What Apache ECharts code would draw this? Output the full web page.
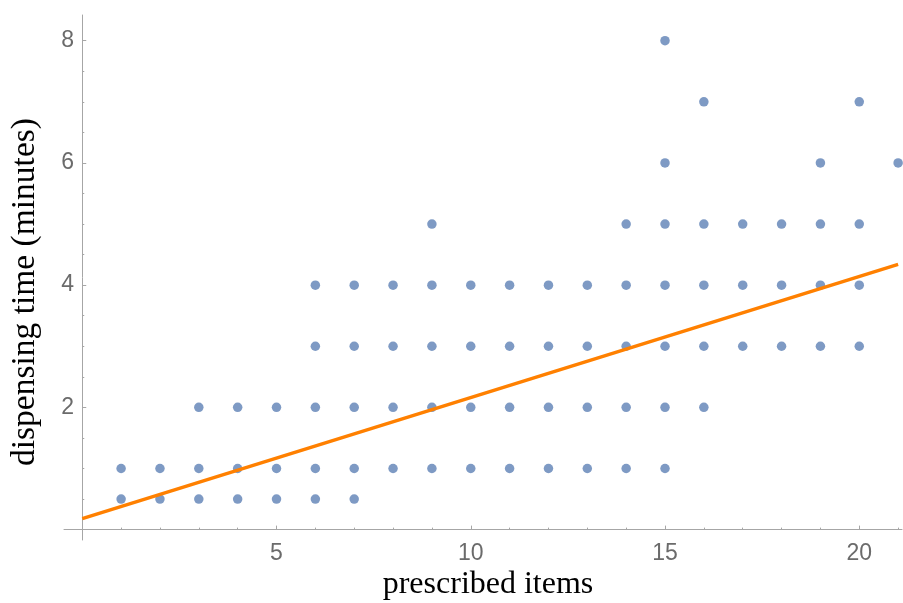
<!DOCTYPE html>
<html>
<head>
<meta charset="utf-8">
<script src="https://cdn.jsdelivr.net/npm/echarts@6/dist/echarts.min.js"></script>
<style>
  html, body { margin: 0; padding: 0; background: #fff; }
  #main { width: 903px; height: 603px; }
</style>
</head>
<body>
<div id="main"></div>
<script>
// prescribed items (x) and dispensing time in minutes (y), one entry per dot
var itemsX = [
  1, 1,
  2, 2,
  3, 3, 3,
  4, 4, 4,
  5, 5, 5,
  6, 6, 6, 6, 6,
  7, 7, 7, 7, 7,
  8, 8, 8, 8,
  9, 9, 9, 9, 9,
  10, 10, 10, 10,
  11, 11, 11, 11,
  12, 12, 12, 12,
  13, 13, 13, 13,
  14, 14, 14, 14, 14,
  15, 15, 15, 15, 15, 15, 15,
  16, 16, 16, 16, 16,
  17, 17, 17,
  18, 18, 18,
  19, 19, 19, 19,
  20, 20, 20, 20,
  21
];
var timeY = [
  0.5, 1,
  0.5, 1,
  0.5, 1, 2,
  0.5, 1, 2,
  0.5, 1, 2,
  0.5, 1, 2, 3, 4,
  0.5, 1, 2, 3, 4,
  1, 2, 3, 4,
  1, 2, 3, 4, 5,
  1, 2, 3, 4,
  1, 2, 3, 4,
  1, 2, 3, 4,
  1, 2, 3, 4,
  1, 2, 3, 4, 5,
  1, 2, 3, 4, 5, 6, 8,
  2, 3, 4, 5, 7,
  3, 4, 5,
  3, 4, 5,
  3, 4, 5, 6,
  3, 4, 5, 7,
  6
];
// fitted line, read at its two ends
var fitX = [0, 21];
var fitY = [0.18, 4.34];

var xMajor = [5, 10, 15, 20];
var xMinor = [1, 2, 3, 4, 6, 7, 8, 9, 11, 12, 13, 14, 16, 17, 18, 19, 21];
var yMajor = [2, 4, 6, 8];
var yMinor = [0.5, 1, 1.5, 2.5, 3, 3.5, 4.5, 5, 5.5, 6.5, 7, 7.5];

var dots = itemsX.map(function (x, i) { return [x, timeY[i]]; });
var fit = fitX.map(function (x, i) { return [x, fitY[i]]; });

var axisGray = '#a6a6a6';
var labelGray = '#6b6b6b';

var chart = echarts.init(document.getElementById('main'));
chart.setOption({
  animation: false,
  backgroundColor: '#ffffff',
  grid: { left: 64, right: 1, top: 15, bottom: 63, containLabel: false },
  xAxis: [{
    type: 'value', min: -0.47, max: 21.1, position: 'bottom',
    axisLine: { show: true, onZero: true, lineStyle: { color: axisGray, width: 1 } },
    axisTick: { show: true, inside: true, length: 4, customValues: xMajor, lineStyle: { color: axisGray } },
    axisLabel: { customValues: xMajor, color: labelGray, fontSize: 23, fontFamily: 'Liberation Sans', margin: 2 },
    splitLine: { show: false }
  }, {
    type: 'value', min: -0.47, max: 21.1, position: 'bottom',
    axisLine: { show: false, onZero: true },
    axisTick: { show: true, inside: true, length: 2, customValues: xMinor, lineStyle: { color: axisGray } },
    axisLabel: { show: false },
    splitLine: { show: false }
  }],
  yAxis: [{
    type: 'value', min: -0.17, max: 8.42, position: 'left',
    axisLine: { show: true, onZero: true, lineStyle: { color: axisGray, width: 1 } },
    axisTick: { show: true, inside: true, length: 4, customValues: yMajor, lineStyle: { color: axisGray } },
    axisLabel: { customValues: yMajor, color: labelGray, fontSize: 23, fontFamily: 'Liberation Sans', margin: -10 },
    splitLine: { show: false }
  }, {
    type: 'value', min: -0.17, max: 8.42, position: 'left',
    axisLine: { show: false, onZero: true },
    axisTick: { show: true, inside: true, length: 2, customValues: yMinor, lineStyle: { color: axisGray } },
    axisLabel: { show: false },
    splitLine: { show: false }
  }],
  graphic: [{
    type: 'text', x: 488, y: 585,
    style: { text: 'prescribed items', font: '32px "Liberation Serif"', fill: '#000', align: 'center', verticalAlign: 'middle' }
  }, {
    type: 'text', x: 25, y: 292, rotation: Math.PI / 2,
    style: { text: 'dispensing time (minutes)', font: '33.5px "Liberation Serif"', fill: '#000', align: 'center', verticalAlign: 'middle' }
  }],
  series: [{
    type: 'scatter', data: dots, symbolSize: 9.5,
    itemStyle: { color: '#5e81b5' }, z: 2
  }, {
    type: 'line', data: fit, showSymbol: false, symbol: 'none',
    lineStyle: { color: '#ff8000', width: 3.5 }, z: 3
  }]
});
</script>
</body>
</html>
